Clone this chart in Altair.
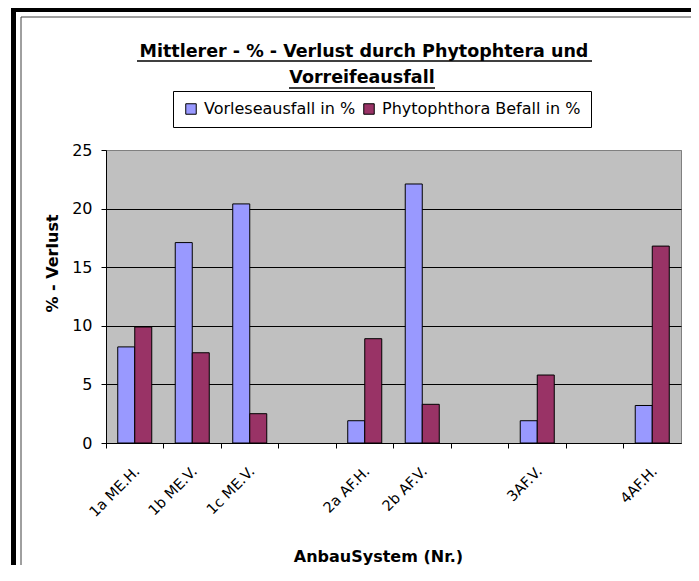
import altair as alt
import pandas as pd

# Category axis (blank slots are the empty groups in the original chart)
categories = ["1a ME.H.", "1b ME.V.", "1c ME.V.", "_1", "2a AF.H.", "2b AF.V.", "_2", "3AF.V.", "_3", "4AF.H."]
systems = ["1a ME.H.", "1b ME.V.", "1c ME.V.", "2a AF.H.", "2b AF.V.", "3AF.V.", "4AF.H."]
vorlese = [8.2, 17.1, 20.4, 1.9, 22.1, 1.9, 3.2]
phyto = [9.9, 7.7, 2.5, 8.9, 3.3, 5.8, 16.8]
series = ["Vorleseausfall in %", "Phytophthora Befall in %"]
colors = ["#9999FF", "#993366"]
y_ticks = [0, 5, 10, 15, 20, 25]
title_lines = ["Mittlerer - % - Verlust durch Phytophtera und", "Vorreifeausfall"]

rows = []
for s, v, p in zip(systems, vorlese, phyto):
    rows.append({"System": s, "Serie": series[0], "Wert": v})
    rows.append({"System": s, "Serie": series[1], "Wert": p})
df = pd.DataFrame(rows)

FONT = "DejaVu Sans"
W, H = 575, 293
PAD = {"left": 98, "top": 142, "right": 10, "bottom": 122}
RIGHT = W + PAD["right"]
BOTTOM = H + PAD["bottom"]

bars = alt.Chart(df).mark_bar(stroke="black", strokeWidth=1, opacity=1).encode(
    x=alt.X(
        "System:N",
        scale=alt.Scale(domain=categories, paddingInner=0, paddingOuter=0),
        axis=alt.Axis(
            title="AnbauSystem (Nr.)",
            bandPosition=0,
            labelAngle=315,
            labelAlign="right",
            labelBaseline="middle",
            labelOffset=3,
            labelPadding=21,
            labelExpr="indexof(datum.label, '_') == 0 ? '' : datum.label",
            labelFont=FONT,
            labelFontSize=14.5,
            labelColor="black",
            labelOverlap=False,
            labelBound=False,
            tickColor="black",
            tickSize=5,
            domainColor="black",
            grid=False,
            titleX=272,
            titleY=118,
            titleFont=FONT,
            titleFontSize=16,
            titleFontWeight="bold",
            titleColor="black",
            titleAlign="center",
            titleBaseline="alphabetic",
        ),
    ),
    xOffset=alt.XOffset("Serie:N", scale=alt.Scale(domain=series, paddingInner=0, paddingOuter=0.69)),
    y=alt.Y(
        "Wert:Q",
        scale=alt.Scale(domain=[0, 25], nice=False),
        axis=alt.Axis(
            title="% - Verlust",
            values=y_ticks,
            grid=True,
            gridColor={"condition": {"test": "datum.value === 25", "value": "#808080"}, "value": "black"},
            gridWidth=1,
            domainColor="black",
            tickColor="black",
            tickSize=5,
            labelPadding=9,
            labelFont=FONT,
            labelFontSize=16,
            labelColor="black",
            titleX=-54,
            titleY=113,
            titleAngle=270,
            titleAlign="center",
            titleBaseline="middle",
            titleFont=FONT,
            titleFontSize=16,
            titleFontWeight="bold",
            titleColor="black",
        ),
    ),
    color=alt.Color(
        "Serie:N",
        scale=alt.Scale(domain=series, range=colors),
        legend=alt.Legend(
            title=None,
            orient="none",
            legendX=67,
            legendY=-59,
            direction="horizontal",
            strokeColor="black",
            fillColor="white",
            padding=10,
            symbolType="square",
            symbolSize=110,
            symbolStrokeColor="black",
            symbolStrokeWidth=1,
            symbolOpacity=1,
            labelFont=FONT,
            labelFontSize=16,
            labelColor="black",
            labelOffset=5,
            labelLimit=400,
            columnPadding=5,
        ),
    ),
)

deco = alt.Data(values=[{"k": 1}])
thick_left = alt.Chart(deco).mark_rect(color="black").encode(
    x=alt.value(-95), x2=alt.value(-90), y=alt.value(-142), y2=alt.value(BOTTOM)
)
thick_top = alt.Chart(deco).mark_rect(color="black").encode(
    x=alt.value(-95), x2=alt.value(RIGHT), y=alt.value(-142), y2=alt.value(-138)
)
thin_left = alt.Chart(deco).mark_rule(color="#404040", strokeWidth=1).encode(
    x=alt.value(-85), y=alt.value(-133), y2=alt.value(BOTTOM)
)
thin_top = alt.Chart(deco).mark_rule(color="#404040", strokeWidth=1).encode(
    x=alt.value(-85), x2=alt.value(RIGHT), y=alt.value(-133)
)
title1 = alt.Chart(deco).mark_text(
    font=FONT, fontSize=17.5, fontWeight="bold", color="black", align="center", baseline="alphabetic"
).encode(x=alt.value(258), y=alt.value(-93), text=alt.value(title_lines[0]))
title2 = alt.Chart(deco).mark_text(
    font=FONT, fontSize=17.5, fontWeight="bold", color="black", align="center", baseline="alphabetic"
).encode(x=alt.value(256), y=alt.value(-67), text=alt.value(title_lines[1]))
underline1 = alt.Chart(deco).mark_rule(color="black", strokeWidth=1.5).encode(
    x=alt.value(31), x2=alt.value(486), y=alt.value(-89)
)
underline2 = alt.Chart(deco).mark_rule(color="black", strokeWidth=1.5).encode(
    x=alt.value(183), x2=alt.value(329), y=alt.value(-62)
)

chart = alt.layer(
    thin_left, thin_top, thick_left, thick_top, bars, title1, title2, underline1, underline2
).properties(
    width=W,
    height=H,
    autosize=alt.AutoSizeParams(type="none"),
    padding=PAD,
    background="white",
).configure_view(fill="#C0C0C0", stroke="#808080", strokeWidth=1)

chart.save("out.html", embed_options={"renderer": "svg", "actions": False})
